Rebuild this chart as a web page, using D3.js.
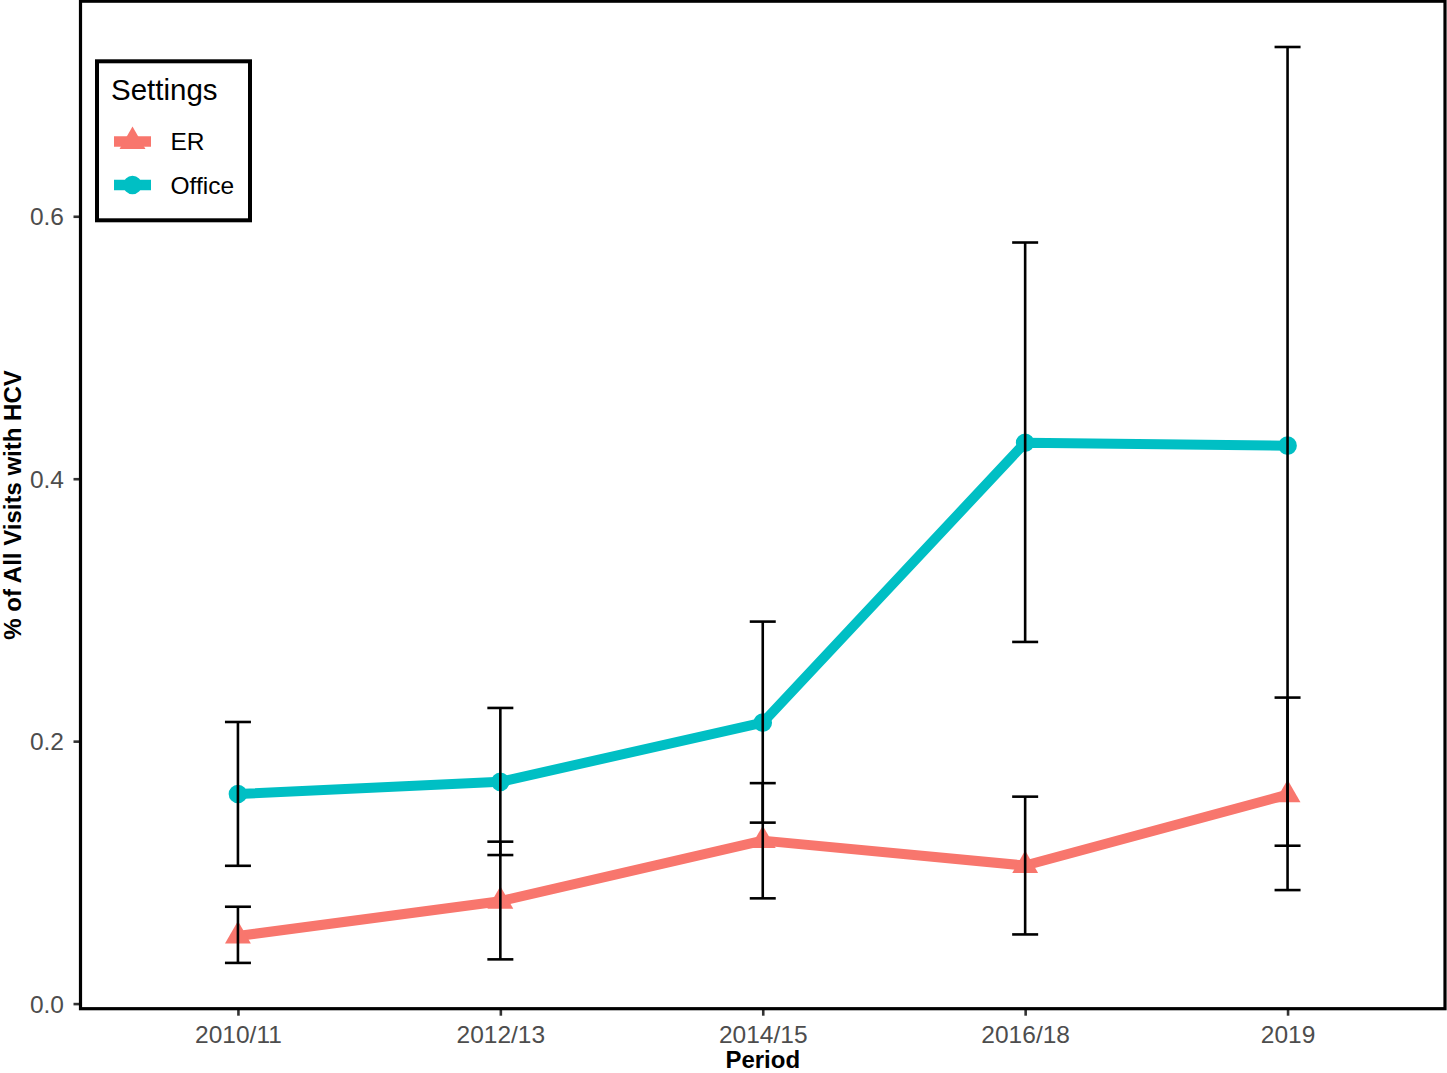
<!DOCTYPE html>
<html>
<head>
<meta charset="utf-8">
<script src="https://cdn.jsdelivr.net/npm/d3@7"></script>
<style>
  html, body { margin: 0; padding: 0; background: #fff; }
  svg { display: block; font-family: "Liberation Sans", Arial, Helvetica, sans-serif; }
</style>
</head>
<body>
<svg id="chart" width="1447" height="1073"></svg>
<script>
// ---- Data ----
const periods = ["2010/11", "2012/13", "2014/15", "2016/18", "2019"];
const seriesNames = ["ER", "Office"];
const erValues   = [0.0515, 0.078, 0.1242, 0.1052, 0.1592];
const erLower    = [0.031, 0.0337, 0.0802, 0.0527, 0.0865];
const erUpper    = [0.0738, 0.1234, 0.168, 0.1577, 0.2332];
const officeValues = [0.1597, 0.169, 0.2141, 0.4274, 0.4252];
const officeLower  = [0.105, 0.1132, 0.1379, 0.2756, 0.1203];
const officeUpper  = [0.2146, 0.2253, 0.2911, 0.580, 0.729];
const yTicks = [0.0, 0.2, 0.4, 0.6];
const colors = {ER: "#F8766D", Office: "#00BFC4"};

const series = [
  {name: "ER", values: erValues, lower: erLower, upper: erUpper},
  {name: "Office", values: officeValues, lower: officeLower, upper: officeUpper}
];

// ---- Layout ----
const svg = d3.select("#chart");
const panel = {left: 80.5, right: 1445, top: 1.2, bottom: 1008.7};

const x = d3.scalePoint().domain(periods).range([panel.left, panel.right]).padding(0.6);

const allVals = [].concat(erLower, erUpper, officeLower, officeUpper, erValues, officeValues);
const yMin = d3.min(allVals), yMax = d3.max(allVals);
const R = yMax - yMin;
const y = d3.scaleLinear().domain([yMin - 0.05 * R, yMax + 0.05 * R]).range([panel.bottom, panel.top]);

// ---- Axes ----
const xAxis = svg.append("g")
  .attr("transform", `translate(0,${panel.bottom})`)
  .call(d3.axisBottom(x).tickSize(7).tickPadding(5));
const yAxis = svg.append("g")
  .attr("transform", `translate(${panel.left},0)`)
  .call(d3.axisLeft(y).tickValues(yTicks).tickFormat(d3.format(".1f")).tickSize(7).tickPadding(5));

[xAxis, yAxis].forEach(g => {
  g.select(".domain").remove();
  g.selectAll(".tick line").attr("stroke", "#333333").attr("stroke-width", 2.6);
  g.selectAll(".tick text").attr("fill", "#4D4D4D").style("font-size", "24.5px")
    .style("font-family", '"Liberation Sans", Arial, sans-serif');
});
xAxis.selectAll(".tick text").attr("dy", "0.71em").attr("y", 17);
yAxis.selectAll(".tick text").attr("x", -16.5).attr("dy", "0.35em");

// ---- Lines ----
const line = d3.line().x((d, i) => x(periods[i])).y(d => y(d));
series.forEach(s => {
  svg.append("path")
    .datum(s.values)
    .attr("d", line)
    .attr("fill", "none")
    .attr("stroke", colors[s.name])
    .attr("stroke-width", 10)
    .attr("stroke-linejoin", "round");
});

// ---- Points ----
const triangle = d3.symbol().type(d3.symbolTriangle).size(290);
const circle = d3.symbol().type(d3.symbolCircle).size(Math.PI * 9.3 * 9.3);
series.forEach(s => {
  svg.append("g").selectAll("path")
    .data(s.values)
    .join("path")
    .attr("transform", (d, i) => `translate(${x(periods[i])},${y(d)})`)
    .attr("d", s.name === "ER" ? triangle : circle)
    .attr("fill", colors[s.name]);
});

// ---- Error bars ----
const capHalf = 13;
series.forEach(s => {
  const g = svg.append("g").attr("stroke", "#000").attr("stroke-width", 2.6).attr("fill", "none");
  periods.forEach((p, i) => {
    const cx = x(p);
    g.append("line").attr("x1", cx).attr("x2", cx).attr("y1", y(s.lower[i])).attr("y2", y(s.upper[i]));
    g.append("line").attr("x1", cx - capHalf).attr("x2", cx + capHalf).attr("y1", y(s.lower[i])).attr("y2", y(s.lower[i]));
    g.append("line").attr("x1", cx - capHalf).attr("x2", cx + capHalf).attr("y1", y(s.upper[i])).attr("y2", y(s.upper[i]));
  });
});

// ---- Panel border ----
svg.append("rect")
  .attr("x", panel.left).attr("y", panel.top)
  .attr("width", panel.right - panel.left).attr("height", panel.bottom - panel.top)
  .attr("fill", "none").attr("stroke", "#000").attr("stroke-width", 3.2);

// ---- Axis titles ----
svg.append("text")
  .attr("x", (panel.left + panel.right) / 2).attr("y", 1068)
  .attr("text-anchor", "middle")
  .style("font-size", "24px").style("font-weight", "bold")
  .text("Period");
svg.append("text")
  .attr("transform", `translate(21,${(panel.top + panel.bottom) / 2}) rotate(-90)`)
  .attr("text-anchor", "middle")
  .style("font-size", "24px").style("font-weight", "bold")
  .text("% of All Visits with HCV");

// ---- Legend ----
const lg = svg.append("g");
lg.append("rect")
  .attr("x", 97).attr("y", 61.3).attr("width", 153).attr("height", 159)
  .attr("fill", "#fff").attr("stroke", "#000").attr("stroke-width", 4);
lg.append("text").attr("x", 111).attr("y", 99.5)
  .style("font-size", "29.5px").text("Settings");
const keyY = [141.5, 185];
const labelY = [150, 194];
series.forEach((s, i) => {
  lg.append("line")
    .attr("x1", 114).attr("x2", 151).attr("y1", keyY[i]).attr("y2", keyY[i])
    .attr("stroke", colors[s.name]).attr("stroke-width", 10.5);
  lg.append("path")
    .attr("transform", `translate(132.5,${keyY[i]})`)
    .attr("d", s.name === "ER" ? triangle : circle)
    .attr("fill", colors[s.name]);
  lg.append("text").attr("x", 170.5).attr("y", labelY[i])
    .style("font-size", "24.5px").text(s.name);
});
</script>
</body>
</html>
